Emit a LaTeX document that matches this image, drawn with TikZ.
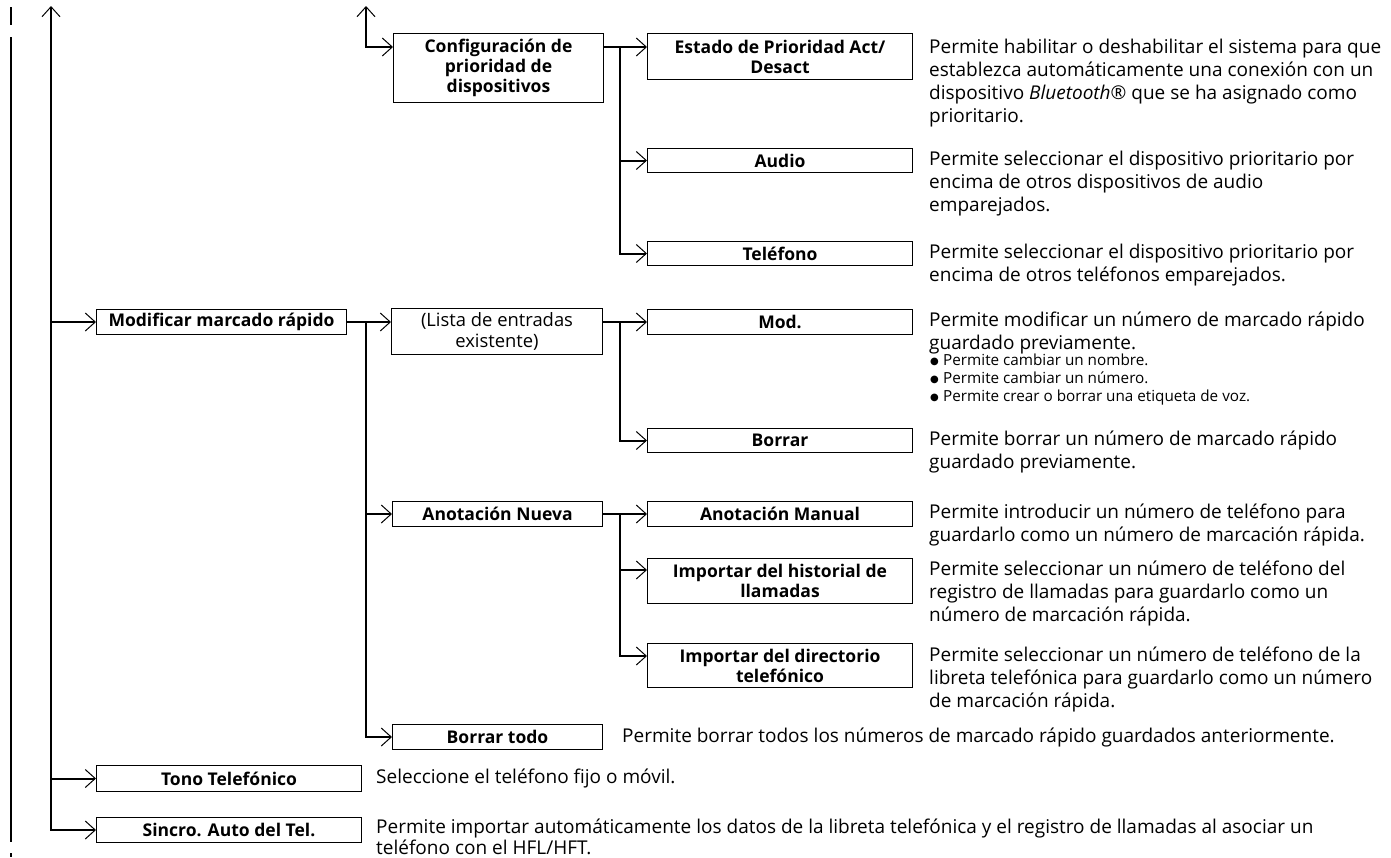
\documentclass[tikz,border=0pt]{standalone}
\usepackage{fontspec}
\setmainfont{Open Sans}
\newfontfamily\symfont{DejaVu Sans}
\usetikzlibrary{arrows.meta}
\newlength\tmplen
\newlength\tmplenb
\newcommand\descfont{\fontsize{\ds}{23}\selectfont}
\newcommand\labfont{\fontsize{\ls}{20}\selectfont\bfseries}
\newcommand\bulfont{\fontsize{\bs}{18}\selectfont}
\newcommand\fl{\rule{0pt}{16pt}}
\newcommand\bl{\rule{0pt}{13pt}}
\newcommand\bitem{\makebox[13pt][l]{\raisebox{0.5pt}{\symfont\fontsize{10}{10}\selectfont ●}}}
\begin{document}
\settowidth\tmplen{\fontsize{10}{12}\selectfont Permite habilitar o deshabilitar el sistema para que}%
\pgfmathsetmacro\ds{10*452/\tmplen}%
\settowidth\tmplen{\fontsize{10}{12}\selectfont\bfseries Modificar marcado rápido}%
\pgfmathsetmacro\ls{10*226/\tmplen}%
\settowidth\tmplen{\fontsize{10}{12}\selectfont Permite crear o borrar una etiqueta de voz.}%
\pgfmathsetmacro\bs{10*307/\tmplen}%
\settowidth\tmplen{\fontsize{10}{12}\selectfont (Lista de entradas}%
\pgfmathsetmacro\lsr{10*152/\tmplen}%
\pgfmathsetmacro\dshift{16-0.27*\ds}%
\pgfmathsetmacro\bshift{13-0.27*\bs}%
\begin{tikzpicture}[x=1pt,y=-1pt]
\tikzset{
  conn/.style={line width=2pt},
  hd/.tip={Straight Barb[length=10pt,width=18pt,line width=1pt]},
  bx/.style={draw, line width=1pt, inner sep=0pt, anchor=north west, align=center, font=\labfont},
  desc/.style={anchor=north west, inner sep=0pt, align=left, font=\descfont, yshift=\dshift pt},
  bul/.style={anchor=north west, inner sep=0pt, align=left, font=\bulfont, yshift=\bshift pt},
}
\useasboundingbox (0,0) rectangle (1391,857);

% boxes
\node[bx, minimum width=210, minimum height=69] (config) at (393,33) {Configuración de\\prioridad de\\dispositivos};
\node[bx, minimum width=265, minimum height=46] (estado) at (647,33) {Estado de Prioridad Act/\\Desact};
\node[bx, minimum width=265, minimum height=24] (audio) at (647,148) {Audio};
\node[bx, minimum width=265, minimum height=24] (telefono) at (647,241) {Teléfono};
\node[bx, minimum width=250, minimum height=25] (modif) at (96,309) {Modificar marcado rápido};
\node[bx, minimum width=211, minimum height=46, font=\fontsize{\lsr}{21}\selectfont] (lista) at (391,308) {(Lista de entradas\\existente)};
\node[bx, minimum width=265, minimum height=25] (mod) at (647,309) {Mod.};
\node[bx, minimum width=265, minimum height=24] (borrar) at (647,428) {Borrar};
\node[bx, minimum width=210, minimum height=25] (anotn) at (392,501) {Anotación Nueva};
\node[bx, minimum width=265, minimum height=25] (anotm) at (647,501) {Anotación Manual};
\node[bx, minimum width=265, minimum height=45] (imphist) at (647,558) {Importar del historial de\\llamadas};
\node[bx, minimum width=265, minimum height=44] (impdir) at (647,643) {Importar del directorio\\telefónico};
\node[bx, minimum width=210, minimum height=25] (borrartodo) at (392,724) {Borrar todo};
\node[bx, minimum width=265, minimum height=26] (tono) at (96,765) {Tono Telefónico};
\node[bx, minimum width=265, minimum height=25] (sincro) at (96,817) {Sincro. Auto del Tel.};

% left edge line
\draw[line width=2pt] (11,7) -- (11,25) (11,37) -- (11,842) (11,853) -- (11,857);

% spine A
\coordinate (topA) at (51,6);
\draw[conn, hd-hd] (topA) |- (sincro.west);
\draw[conn, -hd] (topA |- modif.west) -- (modif.west);
\draw[conn, -hd] (topA |- tono.west) -- (tono.west);

% top branch
\coordinate (topB) at (366,6);
\draw[conn, hd-hd] (topB) |- ([yshift=-14pt]config.north west);
\coordinate (j1) at (620,47);
\draw[conn, -hd] ([yshift=-14pt]config.north east) -- ([yshift=-14pt]estado.north west);
\draw[conn, -hd] (j1) |- (telefono.west);
\draw[conn, -hd] (j1 |- audio.west) -- (audio.west);

% modificar branch
\draw[conn, -hd] (modif.east) -- (modif.east -| lista.west);
\coordinate (j3) at (366,321.5);
\draw[conn, -hd] (j3) |- (borrartodo.west);
\draw[conn, -hd] (j3 |- anotn.west) -- (anotn.west);
\draw[conn, -hd] (lista.east |- mod.west) -- (mod.west);
\coordinate (j2) at (620,321.5);
\draw[conn, -hd] (j2) |- (borrar.west);
\draw[conn, -hd] (anotn.east) -- (anotm.west);
\coordinate (j4) at (620,513.5);
\draw[conn, -hd] (j4) |- ([yshift=-12pt]imphist.north west);
\draw[conn, -hd] (j4) |- ([yshift=-13pt]impdir.north west);

% descriptions
\node[desc] (d1) at (929,48) {\fl Permite habilitar o deshabilitar el sistema para que\\establezca automáticamente una conexión con un\\dispositivo \textit{Bluetooth}® que se ha asignado como\\prioritario.};
\node[desc] (d2) at (929,160) {\fl Permite seleccionar el dispositivo prioritario por\\encima de otros dispositivos de audio\\emparejados.};
\node[desc] (d3) at (929,253) {\fl Permite seleccionar el dispositivo prioritario por\\encima de otros teléfonos emparejados.};
\node[desc] (d4) at (929,321) {\fl Permite modificar un número de marcado rápido\\guardado previamente.};
\node[bul] (d4b) at (930,361) {\bl\bitem Permite cambiar un nombre.\\\bitem Permite cambiar un número.\\\bitem Permite crear o borrar una etiqueta de voz.};
\node[desc] (d5) at (929,440) {\fl Permite borrar un número de marcado rápido\\guardado previamente.};
\node[desc] (d6) at (929,513) {\fl Permite introducir un número de teléfono para\\guardarlo como un número de marcación rápida.};
\node[desc] (d7) at (929,570) {\fl Permite seleccionar un número de teléfono del\\registro de llamadas para guardarlo como un\\número de marcación rápida.};
\node[desc] (d8) at (929,656) {\fl Permite seleccionar un número de teléfono de la\\libreta telefónica para guardarlo como un número\\de marcación rápida.};
\node[desc] (d9) at (622,737) {\fl Permite borrar todos los números de marcado rápido guardados anteriormente.};
\node[desc] (d10) at (376,778) {\fl Seleccione el teléfono fijo o móvil.};
\node[desc, font=\fontsize{\ds}{21.5}\selectfont] (d11) at (376,828) {\fl Permite importar automáticamente los datos de la libreta telefónica y el registro de llamadas al asociar un\\teléfono con el HFL/HFT.};
\end{tikzpicture}
\end{document}
